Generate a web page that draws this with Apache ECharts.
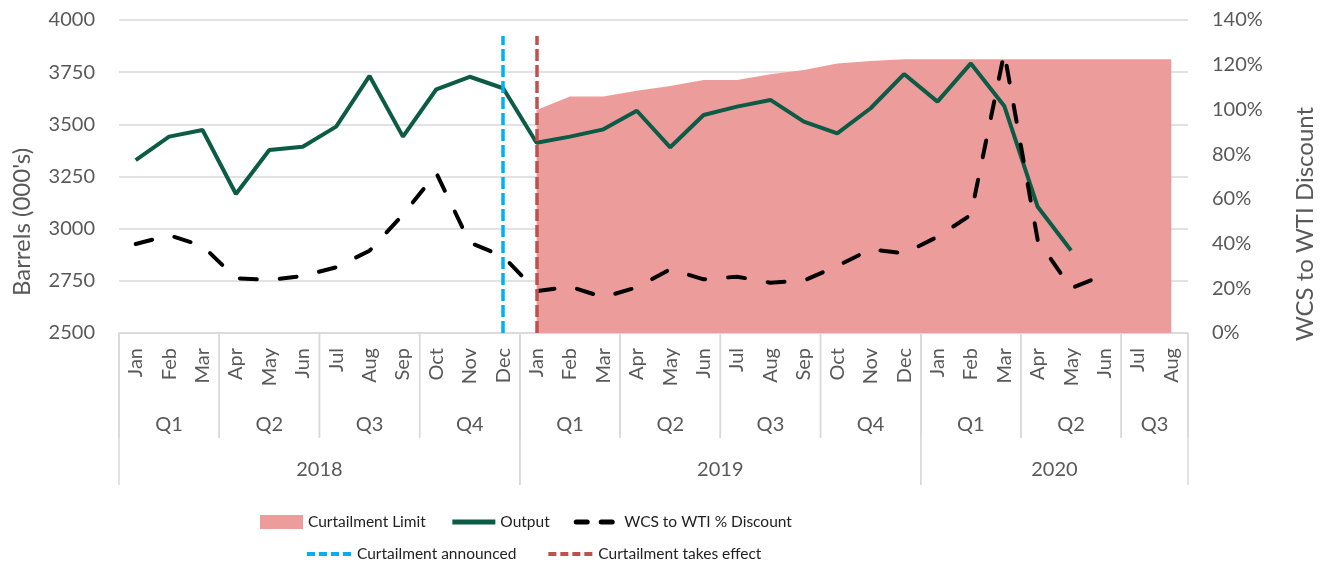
<!DOCTYPE html>
<html>
<head>
<meta charset="utf-8">
<title>Curtailment</title>
<script src="https://cdn.jsdelivr.net/npm/echarts@6/dist/echarts.min.js"></script>
<style>
  html, body { margin: 0; padding: 0; background: #fff; }
  #chart { width: 1326px; height: 565px; }
</style>
</head>
<body>
<div id="chart"></div>
<script>
// data
var monthNames = ['Jan','Feb','Mar','Apr','May','Jun','Jul','Aug','Sep','Oct','Nov','Dec'];
var yearLabels = ['2018','2019','2020'];
var yearSpans = [12, 12, 8];
var quarterLabels = ['Q1','Q2','Q3','Q4','Q1','Q2','Q3','Q4','Q1','Q2','Q3'];
var quarterSpans = [3,3,3,3,3,3,3,3,3,3,2];

var curtailLimit = [null,null,null,null,null,null,null,null,null,null,null,null,
  3569,3633,3633,3661,3684,3712,3712,3740,3760,3792,3803,3812,
  3812,3812,3812,3812,3812,3812,3812,3812];
var output = [3329,3441,3473,3166,3377,3393,3489,3732,3441,3668,3728,3673,
  3412,3441,3476,3565,3390,3545,3585,3617,3513,3457,3577,3741,
  3609,3792,3588,3105,2895,null,null,null];
var discount = [39.8,43.7,39,24.5,23.7,25.5,29.4,36.8,52.9,71.5,40.4,34.3,
  18.7,20.7,16,20.4,28.5,24,25.2,22.5,23.4,30,37.4,35.6,
  43,52.8,125.4,41.6,20,26,null,null];

var announced = 'Dec 2018';
var takesEffect = 'Jan 2019';
var markerTop = 3923;

var leftMin = 2500, leftMax = 4000, leftStep = 250;
var rightMin = 0, rightMax = 140, rightStep = 20;

// month categories
var categories = [];
yearLabels.forEach(function (y, i) {
  for (var m = 0; m < yearSpans[i]; m++) categories.push(monthNames[m] + ' ' + y);
});

function spansToRanges(spans) {
  var out = [], s = 0;
  spans.forEach(function (n) { out.push([s, s + n - 1, leftMin]); s += n; });
  return out;
}

var FONT = 'Lato';
var TXT = '#595959';
var GRID = '#d9d9d9';
var NO_DOT = { color: 'rgba(0,0,0,0)', borderWidth: 0 };

function groupRenderer(labels, lineLen, labelOffset) {
  return function (params, api) {
    var start = api.value(0), end = api.value(1);
    var p = api.coord([start, api.value(2)]);
    var bw = api.size([1, 0])[0];
    var x0 = p[0] - bw / 2;
    var x1 = x0 + (end - start + 1) * bw;
    var y = p[1];
    return {
      type: 'group',
      children: [
        { type: 'line', shape: { x1: x0, y1: y, x2: x0, y2: y + lineLen }, style: { stroke: GRID, lineWidth: 1.5 } },
        { type: 'line', shape: { x1: x1, y1: y, x2: x1, y2: y + lineLen }, style: { stroke: GRID, lineWidth: 1.5 } },
        { type: 'text', x: (x0 + x1) / 2, y: y + labelOffset,
          style: { text: labels[params.dataIndex], fill: TXT, fontSize: 20, fontFamily: FONT,
                   align: 'center', verticalAlign: 'middle' } }
      ]
    };
  };
}

var chart = echarts.init(document.getElementById('chart'));
var option = {
  animation: false,
  textStyle: { fontFamily: FONT },
  grid: { left: 119, right: 138, top: 20, bottom: 232 },
  legend: [
    {
      left: 260, top: 514, padding: 0, itemWidth: 43, itemHeight: 14, itemGap: 24,
      textStyle: { fontSize: 15.5, color: '#222', fontFamily: FONT },
      data: [
        { name: 'Curtailment Limit', icon: 'rect' },
        { name: 'Output', itemStyle: NO_DOT, lineStyle: { width: 5 } },
        { name: 'WCS to WTI % Discount', itemStyle: NO_DOT, lineStyle: { width: 5, type: [11, 14] } }
      ]
    },
    {
      left: 305, top: 546, padding: 0, itemWidth: 45, itemHeight: 14, itemGap: 30,
      textStyle: { fontSize: 15.5, color: '#222', fontFamily: FONT },
      data: [
        { name: 'Curtailment announced', itemStyle: NO_DOT, lineStyle: { width: 4, type: [8, 4] } },
        { name: 'Curtailment takes effect', itemStyle: NO_DOT, lineStyle: { width: 4, type: [8, 4] } }
      ]
    }
  ],
  xAxis: {
    type: 'category',
    data: categories,
    boundaryGap: true,
    axisLine: { lineStyle: { color: GRID, width: 1.5 } },
    axisTick: { show: false },
    axisLabel: {
      interval: 0, rotate: 90, margin: 15, color: TXT, fontSize: 20, fontFamily: FONT,
      formatter: function (v) { return v.split(' ')[0]; }
    },
    splitLine: { show: false }
  },
  yAxis: [
    {
      type: 'value', min: leftMin, max: leftMax, interval: leftStep,
      axisLine: { show: false }, axisTick: { show: false },
      axisLabel: { color: TXT, fontSize: 20, margin: 24, fontFamily: FONT,
                   formatter: function (v) { return String(v); } },
      splitLine: { lineStyle: { color: GRID, width: 1.5 } }
    },
    {
      type: 'value', min: rightMin, max: rightMax, interval: rightStep,
      axisLine: { show: false }, axisTick: { show: false },
      axisLabel: { color: TXT, fontSize: 20, margin: 24, fontFamily: FONT, formatter: '{value}%' },
      splitLine: { show: false }
    }
  ],
  graphic: [
    { type: 'text', x: 22, y: 222, rotation: Math.PI / 2,
      style: { text: "Barrels (000's)", fill: TXT, fontSize: 24, fontFamily: FONT, align: 'center', verticalAlign: 'middle' } },
    { type: 'text', x: 1305, y: 224, rotation: Math.PI / 2,
      style: { text: 'WCS to WTI Discount', fill: TXT, fontSize: 24, fontFamily: FONT, align: 'center', verticalAlign: 'middle' } }
  ],
  series: [
    {
      name: 'Curtailment Limit', type: 'line', data: curtailLimit, yAxisIndex: 0,
      symbol: 'none', color: '#ED9C9C', z: 1,
      lineStyle: { width: 0 },
      areaStyle: { color: '#ED9C9C', opacity: 1, origin: 'start' }
    },
    {
      name: 'Curtailment announced', type: 'line', data: [], symbol: 'none', color: '#00B0F0', z: 2,
      lineStyle: { color: '#00B0F0', width: 3.5, type: [12, 4] },
      markLine: {
        silent: true, symbol: 'none', label: { show: false },
        lineStyle: { color: '#00B0F0', width: 3.5, type: [12, 4] },
        data: [[{ coord: [announced, leftMin] }, { coord: [announced, markerTop] }]]
      }
    },
    {
      name: 'Curtailment takes effect', type: 'line', data: [], symbol: 'none', color: '#C0504D', z: 2,
      lineStyle: { color: '#C0504D', width: 3.5, type: [12, 4] },
      markLine: {
        silent: true, symbol: 'none', label: { show: false },
        lineStyle: { color: '#C0504D', width: 3.5, type: [12, 4] },
        data: [[{ coord: [takesEffect, leftMin] }, { coord: [takesEffect, markerTop] }]]
      }
    },
    {
      name: 'Output', type: 'line', data: output, yAxisIndex: 0, symbol: 'none', color: '#0B5B45', z: 3,
      lineStyle: { color: '#0B5B45', width: 4 }
    },
    {
      name: 'WCS to WTI % Discount', type: 'line', data: discount, yAxisIndex: 1, symbol: 'none', color: '#000', z: 4,
      lineStyle: { color: '#000', width: 4, type: [17, 23], cap: 'round' }
    },
    {
      type: 'custom', silent: true, clip: false, z: 0,
      encode: { x: [0, 1], y: 2 },
      data: spansToRanges(quarterSpans),
      renderItem: groupRenderer(quarterLabels, 105, 92)
    },
    {
      type: 'custom', silent: true, clip: false, z: 0,
      encode: { x: [0, 1], y: 2 },
      data: spansToRanges(yearSpans),
      renderItem: groupRenderer(yearLabels, 152, 137)
    }
  ]
};
chart.setOption(option);
</script>
</body>
</html>
